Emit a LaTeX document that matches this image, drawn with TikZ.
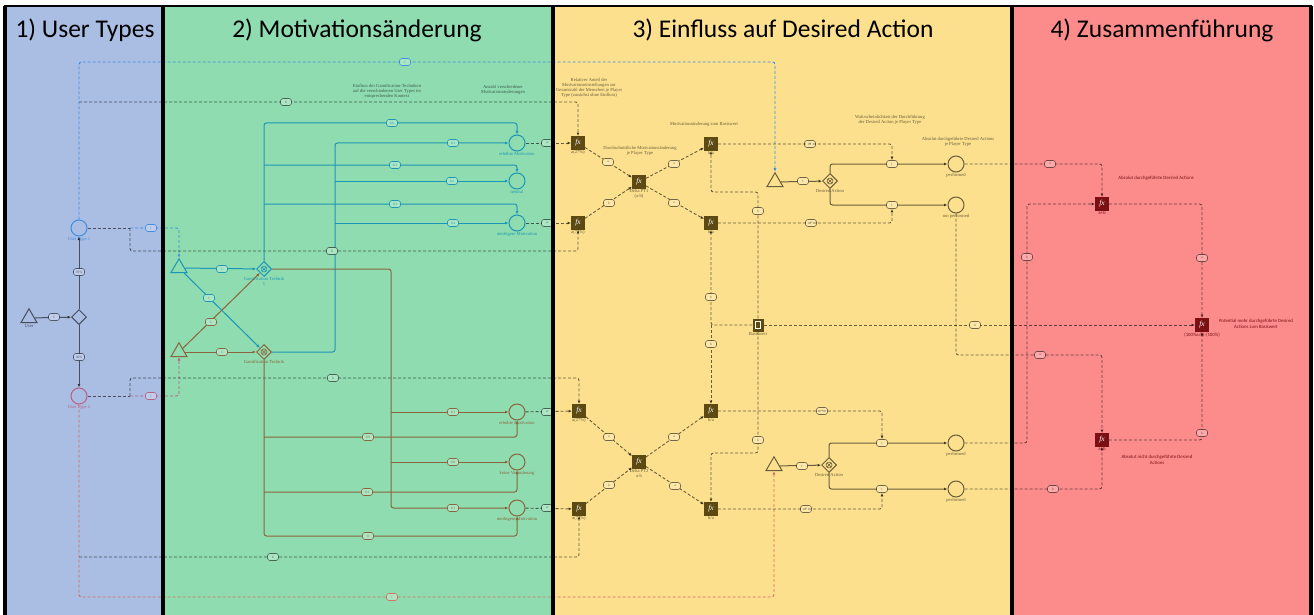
\documentclass[tikz,border=0pt]{standalone}
\usepackage{fontspec}
\setmainfont{Liberation Serif}
\newfontfamily\headfont{Carlito}
\newfontfamily\notefont{Carlito}
\usetikzlibrary{shapes.geometric,arrows.meta}

\definecolor{panelA}{RGB}{170,189,227}
\definecolor{panelB}{RGB}{143,220,176}
\definecolor{panelC}{RGB}{252,224,142}
\definecolor{panelD}{RGB}{252,140,140}
\definecolor{typeOne}{RGB}{64,142,226}
\definecolor{typeTwo}{RGB}{184,96,132}
\definecolor{bottomRun}{RGB}{214,112,96}
\definecolor{techCyan}{RGB}{28,150,182}
\definecolor{techBrown}{RGB}{138,100,62}
\definecolor{fxOlive}{RGB}{92,74,18}
\definecolor{fxRed}{RGB}{122,16,20}

\tikzset{
  arrowed/.style={-{Latex[length=3.5pt,width=3pt]}},
  flow/.style={line width=1pt, rounded corners=2.5pt},
  msg/.style={line width=0.9pt, dash pattern=on 3pt off 2pt, rounded corners=2.5pt},
  ink/.style={black, opacity=0.58},
  ov/.style={draw, solid, rounded corners=2.5pt, minimum width=11pt, minimum height=7pt,
    inner sep=0.3pt, line width=0.6pt, font=\fontsize{3.4}{3.4}\selectfont, fill=#1},
  ovk/.style={ov=#1, draw=black, draw opacity=0.55, text opacity=0.6},
  evt/.style={draw, circle, minimum size=16pt, inner sep=0pt, line width=1pt},
  src/.style={draw, regular polygon, regular polygon sides=3, minimum size=18.5pt, inner sep=0pt, line width=1pt},
  gate/.style={draw, diamond, minimum size=15pt, inner sep=0pt, line width=1pt},
  gatex/.style={gate, path picture={
      \draw[line width=0.6pt] (path picture bounding box.center) circle (3pt);
      \draw[line width=0.6pt] ([shift={(-2.1pt,-2.1pt)}]path picture bounding box.center) -- ([shift={(2.1pt,2.1pt)}]path picture bounding box.center);
      \draw[line width=0.6pt] ([shift={(-2.1pt,2.1pt)}]path picture bounding box.center) -- ([shift={(2.1pt,-2.1pt)}]path picture bounding box.center);}},
  fxbox/.style={fill=#1, minimum size=13.5pt, inner sep=0pt, text=white, font=\fontsize{7.5}{7.5}\selectfont\itshape},
  capt/.style={font=\fontsize{4.6}{5}\selectfont, align=center, inner sep=0.5pt},
  captsans/.style={font=\notefont\fontsize{4.8}{5.4}\selectfont, align=center, inner sep=0.5pt},
  headline/.style={font=\headfont\fontsize{25.5}{28}\selectfont},
}

\begin{document}
\begin{tikzpicture}[x=1pt,y=-1pt]
\useasboundingbox (0,0) rectangle (1314,615);
\fill[white] (0,0) rectangle (1314,615);

% four coloured phases
\fill[panelA] (5,6) rectangle (163,615);
\fill[panelB] (163,6) rectangle (553,615);
\fill[panelC] (553,6) rectangle (1012,615);
\fill[panelD] (1012,6) rectangle (1311,615);

% ---------- phase 1: user types ----------
\node[src, ink, label={[capt, ink, label distance=1pt]below:User}] (user) at (29,318) {};
\node[gate, ink] (g0) at (79,317) {};
\node[evt, typeOne, label={[capt, typeOne]below:User Type 1}] (ut1) at (79,228) {};
\node[evt, typeTwo, label={[capt, typeTwo]below:User Type 2}] (ut2) at (79,396) {};
\coordinate (k1) at (130,228);
\coordinate (k2) at (79,102);
\coordinate (k3) at (130,396);
\coordinate (k4) at (79,557);

% ---------- phase 2: gamification techniques ----------
\node[src, techCyan] (t1) at (179,268) {};
\node[src, techBrown] (t2) at (179,352) {};
\node[gatex, techCyan, label={[capt, techCyan]below:Gamification Technik\\1}] (x1) at (264,269) {};
\node[gatex, techBrown, label={[capt, techBrown]below:Gamification Technik}] (x2) at (264,352) {};
\node[evt, techCyan, label={[capt, techCyan]below:erhöhte Motivation}] (c1) at (517,143) {};
\node[evt, techCyan, label={[capt, techCyan]below:neutral}] (c2) at (517,181) {};
\node[evt, techCyan, label={[capt, techCyan]below:niedrigere Motivation}] (c3) at (517,223) {};
\node[evt, techBrown, label={[capt, techBrown]below:erhöhte Motivation}] (c4) at (517,412) {};
\node[evt, techBrown, label={[capt, techBrown]below:keine Veränderung}] (c5) at (517,462) {};
\node[evt, techBrown, label={[capt, techBrown]below:niedrigere Motivation}] (c6) at (517,508) {};

% ---------- phase 3: desired action ----------
\node[fxbox=fxOlive, label={[capt, ink]below:a(27\%)}] (fx1) at (578,143) {fx};
\node[fxbox=fxOlive, label={[capt, ink]below:a(73\%)}] (fx2) at (578,223) {fx};
\node[fxbox=fxOlive, label={[capt, ink]below:Delta PT1\\(a-b)}] (dp1) at (639,182) {fx};
\node[fxbox=fxOlive, label={[capt, ink]below:b/a}] (fx3) at (711,144) {fx};
\node[fxbox=fxOlive, label={[capt, ink]below:b/a}] (fx4) at (711,223) {fx};
\node[fxbox=fxOlive, label={[capt, ink]below:a(27\%)}] (fxl1) at (579,411) {fx};
\node[fxbox=fxOlive, label={[capt, ink]below:a(73\%)}] (fxl2) at (579,509) {fx};
\node[fxbox=fxOlive, label={[capt, ink]below:Delta PT2\\a-b}] (dp2) at (639,462) {fx};
\node[fxbox=fxOlive, label={[capt, ink]below:b/a}] (fxl3) at (711,411) {fx};
\node[fxbox=fxOlive, label={[capt, ink]below:b/a}] (fxl4) at (711,509) {fx};
\node[fill=fxOlive, minimum width=11pt, minimum height=13pt, inner sep=0pt,
      label={[capt, ink]below:Basiswert},
      path picture={\draw[white, line width=0.5pt] ([shift={(-2.5pt,-3.5pt)}]path picture bounding box.center) rectangle ([shift={(2.5pt,3.5pt)}]path picture bounding box.center);}] (bw) at (758,325) {};
\node[src, ink] (trg1) at (775,182) {};
\node[src, ink] (trg2) at (774,466) {};
\node[gatex, ink, label={[capt, ink]below:Desired Action}] (gw1) at (830,181) {};
\node[gatex, ink, label={[capt, ink]below:Desired Action}] (gw2) at (829,465) {};
\node[evt, ink, label={[capt, ink]below:performed}] (p1) at (956,164) {};
\node[evt, ink, label={[capt, ink]below:not performed}] (np1) at (956,205) {};
\node[evt, ink, label={[capt, ink]below:performed}] (p2) at (956,443) {};
\node[evt, ink, label={[capt, ink]below:performed}] (p3) at (956,489) {};

% ---------- phase 4: merging ----------
\node[fxbox=fxRed, label={[captsans, fxRed]below:a+b}] (fxT) at (1102,204) {fx};
\node[fxbox=fxRed, label={[captsans, fxRed]below:a+b}] (fxB) at (1102,440) {fx};
\node[fxbox=fxRed, label={[captsans, fxRed]below:(100\%a/b)-(100\%)}] (fxR) at (1202,325) {fx};

% ---------- connectors ----------
\draw[flow, ink, arrowed] (user) -- (g0);
\draw[flow, ink, arrowed] (g0) -- (ut1);
\draw[flow, ink, arrowed] (g0) -- (ut2);
\draw[msg, ink] (ut1) -- (k1);
\draw[msg, typeOne, arrowed] (k1) -- (179,228) -- (t1);
\draw[msg, typeOne, arrowed] (ut1) -- (79,62) -- (775,62) -- (trg1);
\draw[msg, ink, arrowed] (k1) -- (130,251) -- (578,251) -- (fx2);
\draw[msg, ink, arrowed] (k2) -- (578,102) -- (fx1);
\draw[msg, ink] (ut2) -- (k3);
\draw[msg, typeTwo, arrowed] (k3) -- (179,396) -- (t2);
\draw[msg, bottomRun, arrowed] (ut2) -- (79,597) -- (774,597) -- (trg2);
\draw[msg, ink, arrowed] (k3) -- (130,378) -- (579,378) -- (fxl1);
\draw[msg, ink, arrowed] (k4) -- (579,557) -- (fxl2);

\draw[flow, techCyan, arrowed] (t1) -- (x1);
\draw[flow, techCyan, arrowed] (t1) -- (x2);
\draw[flow, techBrown, arrowed] (t2) -- (x1);
\draw[flow, techBrown, arrowed] (t2) -- (x2);
\draw[flow, techCyan, arrowed] (x1) -- (264,123) -- (517,123) -- (c1);
\draw[flow, techCyan, arrowed] (264,165) -- (517,165) -- (c2);
\draw[flow, techCyan, arrowed] (264,204) -- (517,204) -- (c3);
\draw[flow, techCyan, arrowed] (x2) -- (335,352) -- (335,143) -- (c1);
\draw[flow, techCyan, arrowed] (335,181) -- (c2);
\draw[flow, techCyan, arrowed] (335,223) -- (c3);
\draw[flow, techBrown, arrowed] (x1) -- (391,269) -- (391,508) -- (c6);
\draw[flow, techBrown, arrowed] (391,412) -- (c4);
\draw[flow, techBrown, arrowed] (391,462) -- (c5);
\draw[flow, techBrown, arrowed] (x2) -- (264,536) -- (517,536) -- (c6);
\draw[flow, techBrown, arrowed] (264,437) -- (517,437) -- (c4);
\draw[flow, techBrown, arrowed] (264,492) -- (517,492) -- (c5);

\draw[msg, ink, arrowed] (c1) -- (fx1);
\draw[msg, ink, arrowed] (c3) -- (fx2);
\draw[msg, ink, arrowed] (c4) -- (fxl1);
\draw[msg, ink, arrowed] (c6) -- (fxl2);
\draw[msg, ink, arrowed] (fx1) -- (dp1);
\draw[msg, ink, arrowed] (fx2) -- (dp1);
\draw[msg, ink, arrowed] (dp1) -- (fx3);
\draw[msg, ink, arrowed] (dp1) -- (fx4);
\draw[msg, ink, arrowed] (fxl1) -- (dp2);
\draw[msg, ink, arrowed] (fxl2) -- (dp2);
\draw[msg, ink, arrowed] (dp2) -- (fxl3);
\draw[msg, ink, arrowed] (dp2) -- (fxl4);
\draw[msg, ink, arrowed] (bw) -- (711,325) -- (fx4);
\draw[msg, ink, arrowed] (711,325) -- (fxl3);
\draw[msg, ink, arrowed] (bw) -- (758,192) -- (711,192) -- (fx3);
\draw[msg, ink, arrowed] (bw) -- (758,453) -- (711,453) -- (fxl4);
\draw[msg, ink, arrowed] (bw) -- (fxR);

\draw[flow, ink, arrowed] (trg1) -- (gw1);
\draw[flow, ink, arrowed] (trg2) -- (gw2);
\draw[flow, ink, arrowed] (gw1) |- (p1);
\draw[flow, ink, arrowed] (gw1) |- (np1);
\draw[flow, ink, arrowed] (gw2) |- (p2);
\draw[flow, ink, arrowed] (gw2) |- (p3);

\draw[msg, ink, arrowed] (p1) -| (fxT);
\draw[msg, ink, arrowed] (p2) -- (1027,443) |- (fxT);
\draw[msg, ink, arrowed] (np1) -- (956,355) -| (fxB);
\draw[msg, ink, arrowed] (p3) -| (fxB);
\draw[msg, ink, arrowed] (fxT) -| (fxR);
\draw[msg, ink, arrowed] (fxB) -| (fxR);

% ---------- connector labels ----------
\node[ovk=panelA!75!white] (o1) at (54,317) {1};
\node[ovk=panelA!75!white] (o2) at (79,272) {70\%};
\node[ovk=panelA!75!white] (o3) at (79,357) {30\%};
\node[ov=panelA!75!white, draw=typeOne, text=typeOne] (o4) at (151,228) {1};
\node[ov=panelA!75!white, draw=typeTwo, text=typeTwo] (o5) at (151,396) {1};
\node[ov=panelB!75!white, draw=typeOne, text=typeOne] (o6) at (405,62) {1};
\node[ovk=panelB!75!white] (o7) at (286,102) {6};
\node[ovk=panelB!75!white] (o8) at (332,251) {6};
\node[ovk=panelB!75!white] (o9) at (333,378) {6};
\node[ovk=panelB!75!white] (o10) at (273,557) {6};
\node[ov=panelB!75!white, draw=bottomRun, text=bottomRun] (o11) at (392,597) {1};
\node[ov=panelB!75!white, draw=techCyan, text=techCyan] (o12) at (222,269) {1};
\node[ov=panelB!75!white, draw=techCyan, text=techCyan] (o13) at (209,298) {1};
\node[ov=panelB!75!white, draw=techBrown, text=techBrown] (o14) at (211,322) {1};
\node[ov=panelB!75!white, draw=techBrown, text=techBrown] (o15) at (222,352) {1};
\node[ov=panelB!75!white, draw=techCyan, text=techCyan] (o16) at (392,123) {0.6};
\node[ov=panelB!75!white, draw=techCyan, text=techCyan] (o17) at (453,143) {0.3};
\node[ov=panelB!75!white, draw=techCyan, text=techCyan] (o18) at (395,165) {0.1};
\node[ov=panelB!75!white, draw=techCyan, text=techCyan] (o19) at (452,181) {0.2};
\node[ov=panelB!75!white, draw=techCyan, text=techCyan] (o20) at (395,204) {0.3};
\node[ov=panelB!75!white, draw=techCyan, text=techCyan] (o21) at (453,223) {0.4};
\node[ov=panelB!75!white, draw=techBrown, text=techBrown] (o22) at (453,412) {0.1};
\node[ov=panelB!75!white, draw=techBrown, text=techBrown] (o23) at (368,437) {0.9};
\node[ov=panelB!75!white, draw=techBrown, text=techBrown] (o24) at (453,462) {0.8};
\node[ov=panelB!75!white, draw=techBrown, text=techBrown] (o25) at (367,492) {0.1};
\node[ov=panelB!75!white, draw=techBrown, text=techBrown] (o26) at (453,508) {0.1};
\node[ov=panelB!75!white, draw=techBrown, text=techBrown] (o27) at (368,536) {0};
\node[ovk=panelB!75!white] (o28) at (547,143) {a};
\node[ovk=panelB!75!white] (o29) at (547,223) {a};
\node[ovk=panelB!75!white] (o30) at (547,412) {a};
\node[ovk=panelB!75!white] (o31) at (547,508) {a};
\node[ovk=panelC!75!white] (o32) at (608,162) {a};
\node[ovk=panelC!75!white] (o33) at (609,203) {b};
\node[ovk=panelC!75!white] (o34) at (674,164) {a};
\node[ovk=panelC!75!white] (o35) at (674,203) {a};
\node[ovk=panelC!75!white] (o36) at (609,437) {a};
\node[ovk=panelC!75!white] (o37) at (609,485) {b};
\node[ovk=panelC!75!white] (o38) at (674,437) {a};
\node[ovk=panelC!75!white] (o39) at (675,486) {a};
\node[ovk=panelC!75!white] (o40) at (810,144) {a};
\node[ovk=panelC!75!white] (o41) at (811,223) {a};
\node[ovk=panelC!75!white] (o42) at (822,411) {a};
\node[ovk=panelC!75!white] (o43) at (806,509) {a};
\node[ovk=panelC!75!white] (o44) at (711,297) {b};
\node[ovk=panelC!75!white] (o45) at (711,344) {b};
\node[ovk=panelC!75!white] (o46) at (758,211) {b};
\node[ovk=panelC!75!white] (o47) at (758,440) {b};
\node[ovk=panelC!75!white] (o48) at (803,181) {1};
\node[ovk=panelC!75!white] (o49) at (802,466) {1};
\node[ovk=panelC!75!white] (o50) at (975,325) {b};
\node[ovk=panelC!75!white] (qp1) at (892,164) {1};
\node[ovk=panelC!75!white] (qp2) at (892,205) {1};
\node[ovk=panelC!75!white] (qp3) at (882,443) {1};
\node[ovk=panelC!75!white] (qp4) at (882,489) {1};
\node[ovk=panelD!75!white] (o51) at (1050,164) {a};
\node[ovk=panelD!75!white] (o52) at (1027,257) {b};
\node[ovk=panelD!75!white] (o53) at (1040,355) {a};
\node[ovk=panelD!75!white] (o54) at (1053,489) {b};
\node[ovk=panelD!75!white] (o55) at (1202,258) {a};
\node[ovk=panelD!75!white] (o56) at (1202,433) {b};

\draw[msg, ink, arrowed] (fx3) -| (qp1);
\draw[msg, ink, arrowed] (fx4) -| (qp2);
\draw[msg, ink, arrowed] (fxl3) -| (qp3);
\draw[msg, ink, arrowed] (fxl4) -| (qp4);

% ---------- annotations ----------
\node[capt, ink] (n1) at (387,91) {Einfluss der Gamification-Techniken\\auf die verschiedenen User Types im\\entsprechenden Kontext};
\node[capt, ink] (n2) at (503,90) {Anzahl verschiedener\\Motivationsänderungen};
\node[capt, ink] (n3) at (589,88) {Relativer Anteil der\\Motivationseinstellungen zur\\Gesamtzahl der Menschen je Player\\Type (zunächst ohne Einfluss)};
\node[capt, ink] (n4) at (640,151) {Durchschnittliche Motivationsänderung\\je Player Type};
\node[capt, ink] (n5) at (704,124) {Motivationsänderung zum Basiswert};
\node[capt, ink] (n6) at (890,120) {Wahrscheinlichkeit der Durchführung\\der Desired Action je Player Type};
\node[capt, ink] (n7) at (958,142) {Absolut durchgeführte Desired Actions\\je Player Type};
\node[captsans, fxRed] (n8) at (1156,178) {Absolut durchgeführte Desired Actions};
\node[captsans, fxRed] (n9) at (1157,460) {Absolut nicht durchgeführte Desired\\Actions};
\node[captsans, fxRed] (n10) at (1256,324) {Potential mehr durchgeführte Desired\\Actions zum Basiswert};

% ---------- frames and headings ----------
\draw[line width=2.5pt] (3.75,6) -- (1312.25,6);
\draw[line width=4pt] (5,6) -- (5,615);
\draw[line width=4pt] (163,6) -- (163,615);
\draw[line width=4pt] (553,6) -- (553,615);
\draw[line width=4pt] (1012,6) -- (1012,615);
\draw[line width=4pt] (1311,6) -- (1311,615);
\node[headline] (h1) at (85,30) {1) User Types};
\node[headline] (h2) at (357,30) {2) Motivationsänderung};
\node[headline] (h3) at (783,30) {3) Einfluss auf Desired Action};
\node[headline] (h4) at (1162,30) {4) Zusammenführung};
\end{tikzpicture}
\end{document}
